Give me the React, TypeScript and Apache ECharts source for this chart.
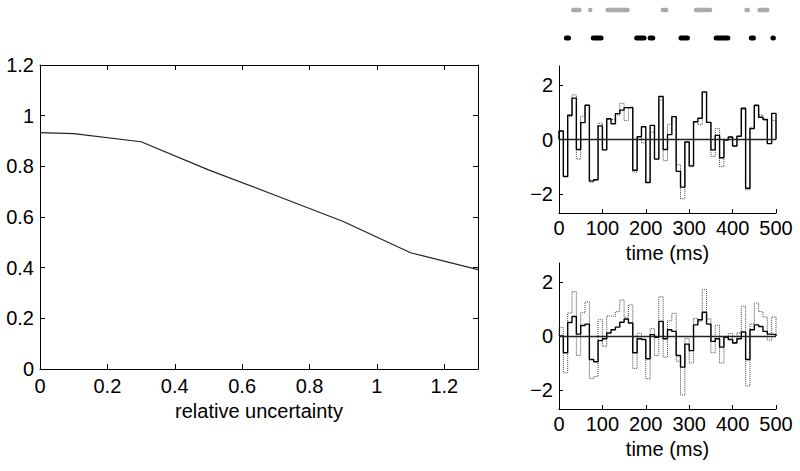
import React, { useEffect, useRef } from "react";
import * as echarts from "echarts";

// Left panel
const uncertainty = [0, 0.1, 0.3, 0.5, 0.7, 0.9, 1.1, 1.3];
const performance = [0.933, 0.929, 0.897, 0.786, 0.685, 0.582, 0.459, 0.392];

// Right panels: 50 bins of 10 ms
const stimulus = [
  0.31, -1.36, 0.85, 1.64, -0.72, 0.86, 1.26, -1.57, -1.5, 0.6,
  -0.38, 0.74, 0.72, 0.9, 1.33, 0.7, 1.15, -1.2, 0.1, -0.12,
  -1.58, 0.27, -0.72, 1.45, -0.78, 0.56, 0.84, -0.93, -2.18, -0.09,
  -1.0, 0.65, 0.55, 1.72, 0.63, -0.62, 0.4, -1.0, -0.02, 0.09,
  -0.24, 0.12, 1.1, -1.85, 0.45, 1.22, 0.9, 0.7, -0.15, 0.7,
];
const estimateTop = [
  0.31, -1.36, 0.89, 1.52, -0.37, 0.62, 1.26, -1.52, -1.48, 0.5,
  -0.38, 0.76, 0.58, 0.95, 1.08, 1.17, 1.18, -1.13, 0.1, 0.47,
  -1.58, 0.52, -0.72, 1.58, -0.37, 0.18, 0.84, -1.17, -1.75, -0.09,
  -0.97, 0.65, 0.78, 1.75, 0.63, -0.38, 0.15, -0.67, -0.02, 0.09,
  -0.24, 0.12, 1.15, -1.79, 0.4, 1.26, 0.82, 0.74, -0.15, 0.96,
];
const estimateBottom = [
  0.0, -0.62, 0.5, 0.72, 0.07, 0.39, 0.44, -0.87, -0.95, -0.17,
  -0.1, 0.11, 0.23, 0.33, 0.51, 0.63, 0.48, -0.62, -0.1, -0.13,
  -0.84, 0.05, -0.05, 0.54, -0.1, 0.23, 0.17, -0.72, -1.15, -0.3,
  -0.54, 0.41, 0.6, 0.88, 0.44, -0.2, -0.1, -0.41, -0.05, -0.13,
  -0.26, -0.1, 0.15, -0.87, 0.23, 0.41, 0.35, 0.17, 0.07, 0.05,
];
const binMs = 10;
const timeTicks = [0, 100, 200, 300, 400, 500];
const ampTicks = [-2, 0, 2];

// Spike rasters: [start ms, end ms]
const greySpikes = [[33, 47], [72, 72], [112, 158], [239, 247], [316, 348], [432, 435], [462, 480]];
const blackSpikes = [[17, 22], [79, 97], [179, 196], [210, 216], [281, 296], [362, 389], [443, 448], [493, 494]];

const FONT = "'Liberation Sans', Arial, Helvetica, sans-serif";

function stairs(values: number[]) {
  const n = values.length;
  const pts: number[][] = [[0, 0]];
  values.forEach((v, i) => pts.push([i * binMs, v]));
  pts.push([n * binMs, values[n - 1]]);
  pts.push([n * binMs, 0]);
  return pts;
}

const minusFmt = (v: number) => (v < 0 ? "\u2212" + Math.abs(v) : String(v));

export default function App() {
  const ref = useRef<HTMLDivElement>(null);
  useEffect(() => {
    if (!ref.current) return;
    const chart = echarts.init(ref.current, null, { renderer: "svg" });
    const axisLine = { show: true, onZero: false, lineStyle: { color: "#000", width: 1 } };
    const label = { color: "#000", fontSize: 20, fontFamily: FONT };
    const timeX = (gridIndex: number) => ({
      type: "value",
      gridIndex,
      min: 0,
      max: 500,
      axisLine,
      splitLine: { show: false },
      axisTick: { show: true, inside: true, length: 4, customValues: timeTicks, lineStyle: { color: "#000" } },
      axisLabel: { ...label, margin: 5, customValues: timeTicks },
      name: "time (ms)",
      nameLocation: "middle",
      nameGap: 30,
      nameTextStyle: { ...label },
    });
    const ampY = (gridIndex: number) => ({
      type: "value",
      gridIndex,
      min: -2.7,
      max: 2.7,
      axisLine,
      splitLine: { show: false },
      axisTick: { show: true, inside: true, length: 4, customValues: ampTicks, lineStyle: { color: "#000" } },
      axisLabel: { ...label, margin: 6, customValues: ampTicks, formatter: minusFmt },
    });
    const rasterRender = (thick: number, color: string) => (params: any, api: any) => {
      const s = api.value(0);
      const e = api.value(1);
      const row = api.value(2);
      const p1 = api.coord([s, row]);
      const p2 = api.coord([e, row]);
      const r = thick / 2;
      return {
        type: "rect",
        shape: { x: p1[0] - r, y: p1[1] - r, width: p2[0] - p1[0] + thick, height: thick, r },
        style: { fill: color },
      };
    };
    const zeroLine = {
      silent: true,
      symbol: "none",
      label: { show: false },
      lineStyle: { color: "#222", type: "solid", width: 1.3 },
      data: [{ yAxis: 0 }],
    };
    const boxTick = { show: true, inside: true, length: 5, lineStyle: { color: "#000" } };
    chart.setOption({
      animation: false,
      backgroundColor: "#fff",
      textStyle: { fontFamily: FONT },
      grid: [
        { left: 40, top: 65, width: 438, height: 304 },
        { left: 559, top: 66, width: 217, height: 147 },
        { left: 559, top: 263, width: 217, height: 146 },
        { left: 559, top: 3, width: 217, height: 42 },
      ],
      xAxis: [
        {
          type: "value",
          gridIndex: 0,
          min: 0,
          max: 1.3,
          interval: 0.2,
          axisLine,
          splitLine: { show: false },
          axisTick: boxTick,
          axisLabel: { ...label, margin: 7, showMaxLabel: false },
          name: "relative uncertainty",
          nameLocation: "middle",
          nameGap: 32,
          nameTextStyle: { ...label },
        },
        {
          type: "value",
          gridIndex: 0,
          position: "top",
          min: 0,
          max: 1.3,
          interval: 0.2,
          axisLine,
          splitLine: { show: false },
          axisTick: boxTick,
          axisLabel: { show: false },
        },
        timeX(1),
        timeX(2),
        { type: "value", gridIndex: 3, min: 0, max: 500, show: false },
      ],
      yAxis: [
        {
          type: "value",
          gridIndex: 0,
          min: 0,
          max: 1.2,
          interval: 0.2,
          axisLine,
          splitLine: { show: false },
          axisTick: boxTick,
          axisLabel: { ...label, margin: 6 },
        },
        {
          type: "value",
          gridIndex: 0,
          position: "right",
          min: 0,
          max: 1.2,
          interval: 0.2,
          axisLine,
          splitLine: { show: false },
          axisTick: boxTick,
          axisLabel: { show: false },
        },
        ampY(1),
        ampY(2),
        { type: "value", gridIndex: 3, min: 0.75, max: 2.25, show: false },
      ],
      series: [
        {
          type: "line",
          xAxisIndex: 0,
          yAxisIndex: 0,
          data: uncertainty.map((u, i) => [u, performance[i]]),
          showSymbol: false,
          lineStyle: { color: "#222", width: 1.2 },
        },
        {
          type: "line",
          xAxisIndex: 2,
          yAxisIndex: 2,
          step: "end",
          data: stairs(stimulus),
          showSymbol: false,
          lineStyle: { color: "#444", width: 1, type: "dotted" },
        },
        {
          type: "line",
          xAxisIndex: 2,
          yAxisIndex: 2,
          step: "end",
          data: stairs(estimateTop),
          showSymbol: false,
          lineStyle: { color: "#000", width: 1.4 },
          markLine: zeroLine,
        },
        {
          type: "line",
          xAxisIndex: 3,
          yAxisIndex: 3,
          step: "end",
          data: stairs(stimulus),
          showSymbol: false,
          lineStyle: { color: "#444", width: 1, type: "dotted" },
        },
        {
          type: "line",
          xAxisIndex: 3,
          yAxisIndex: 3,
          step: "end",
          data: stairs(estimateBottom),
          showSymbol: false,
          lineStyle: { color: "#000", width: 1.4 },
          markLine: zeroLine,
        },
        {
          type: "custom",
          xAxisIndex: 4,
          yAxisIndex: 4,
          data: greySpikes.map(([s, e]) => [s, e, 2]),
          encode: { x: [0, 1], y: 2 },
          renderItem: rasterRender(4.5, "#aaa"),
        },
        {
          type: "custom",
          xAxisIndex: 4,
          yAxisIndex: 4,
          data: blackSpikes.map(([s, e]) => [s, e, 1]),
          encode: { x: [0, 1], y: 2 },
          renderItem: rasterRender(5, "#000"),
        },
      ],
    });
    return () => chart.dispose();
  }, []);
  return <div ref={ref} style={{ width: 800, height: 471, position: "absolute", left: 0, top: 0 }} />;
}
